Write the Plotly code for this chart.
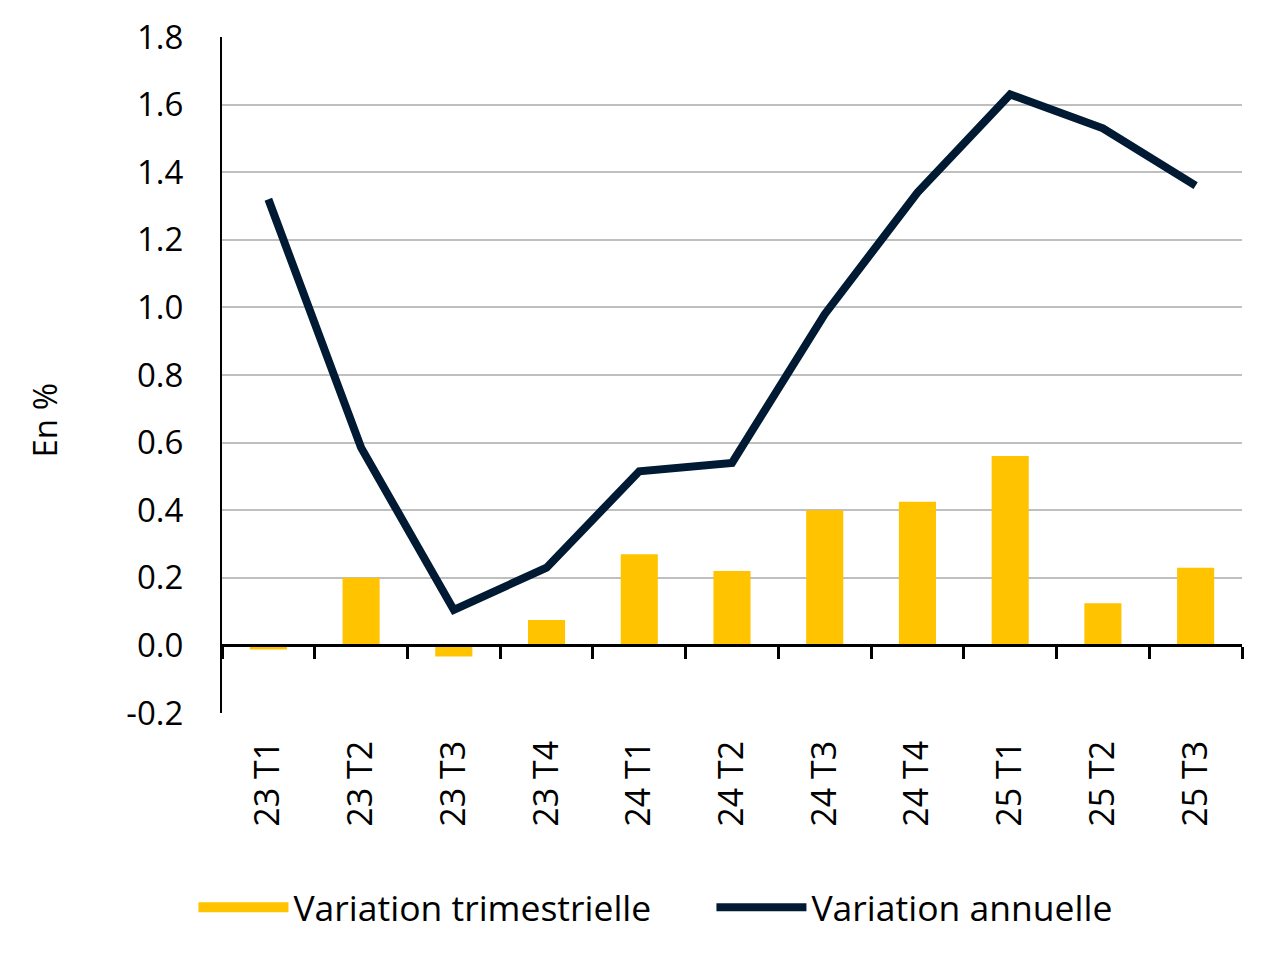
import plotly.graph_objects as go

categories = ["23 T1", "23 T2", "23 T3", "23 T4", "24 T1", "24 T2", "24 T3", "24 T4", "25 T1", "25 T2", "25 T3"]
trimestrielle = [-0.012, 0.20, -0.033, 0.075, 0.27, 0.22, 0.40, 0.425, 0.56, 0.125, 0.23]
annuelle = [1.32, 0.585, 0.105, 0.23, 0.515, 0.54, 0.98, 1.34, 1.63, 1.53, 1.36]
y_ticks = [-0.2, 0.0, 0.2, 0.4, 0.6, 0.8, 1.0, 1.2, 1.4, 1.6, 1.8]

GOLD = "#FFC300"
NAVY = "#001A33"
FONT = "Open Sans"

fig = go.Figure()
fig.add_trace(go.Bar(x=categories, y=trimestrielle, marker=dict(color=GOLD, line=dict(width=0)),
                     width=0.4, name="Variation trimestrielle", showlegend=False,
                     legendgroup="t", xaxis="x", yaxis="y"))
fig.add_trace(go.Scatter(x=[None], y=[None], mode="lines", line=dict(color=GOLD, width=22),
                         name="Variation trimestrielle", legendgroup="t", showlegend=True))
fig.add_trace(go.Scatter(x=categories, y=annuelle, mode="lines", line=dict(color=NAVY, width=8),
                         name="Variation annuelle", xaxis="x2", yaxis="y"))

fig.update_layout(
    width=1280, height=967,
    paper_bgcolor="white", plot_bgcolor="white",
    margin=dict(l=214, r=46, t=29, b=262, autoexpand=False),
    font=dict(family=FONT, size=33, color="#000000"),
    showlegend=True,
    legend=dict(orientation="h", x=-0.028, xanchor="left", y=-0.288, yanchor="middle",
                font=dict(size=35.5, family=FONT), itemwidth=90, traceorder="normal",
                entrywidth=413, entrywidthmode="pixels", bgcolor="rgba(0,0,0,0)"),
    xaxis=dict(type="category", categoryorder="array", categoryarray=categories,
               range=[-0.5, 10.5], tickangle=-90, showgrid=False, showline=False,
               ticks="", ticklabelstandoff=20, tickfont=dict(size=34), zeroline=False,
               automargin=False),
    xaxis2=dict(type="category", categoryorder="array", categoryarray=categories,
                range=[-0.5, 10.5], overlaying="x", anchor="free", position=0.1,
                showline=True, linecolor="#000000", linewidth=2.5, ticks="outside",
                tickson="boundaries", ticklen=12, tickwidth=2.5, tickcolor="#000000",
                showticklabels=False, showgrid=False, side="bottom", automargin=False),
    yaxis=dict(range=[-0.2, 1.8], tickvals=y_ticks, ticktext=[f"{v:.1f}" for v in y_ticks],
               showgrid=True, gridcolor="#BFBFBF", gridwidth=2, zeroline=False,
               showline=True, linecolor="#000000", linewidth=2, ticks="",
               ticklabelstandoff=30, tickfont=dict(size=33), automargin=False),
    annotations=[dict(text="En %", textangle=-90, xref="paper", yref="paper",
                      x=-0.174, y=0.432, xanchor="center", yanchor="middle",
                      showarrow=False, font=dict(size=33, family=FONT))],
)

fig.write_html("out.html")
